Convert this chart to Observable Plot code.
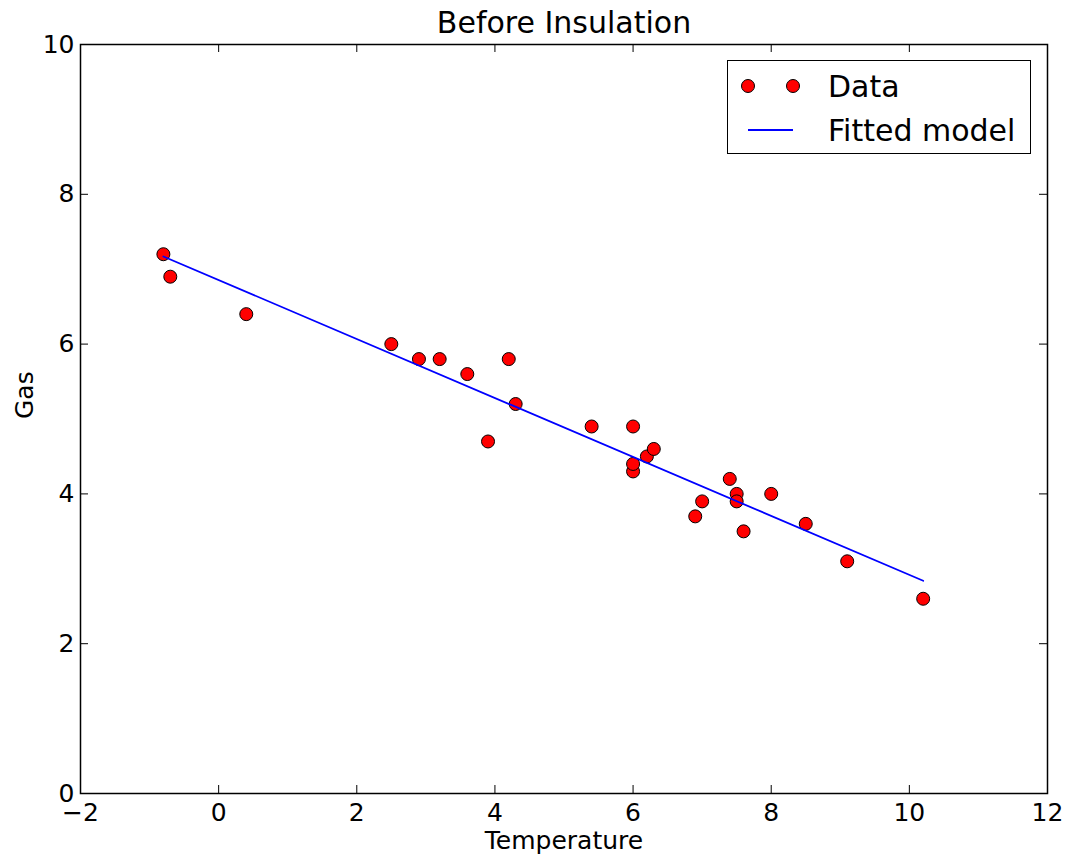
<!DOCTYPE html>
<html>
<head>
<meta charset="utf-8">
<script src="https://cdn.jsdelivr.net/npm/d3@7"></script>
<script src="https://cdn.jsdelivr.net/npm/@observablehq/plot@0.6"></script>
<style>
  html, body { margin: 0; padding: 0; background: #fff; }
  #wrap { position: relative; width: 1071px; height: 859px; font-family: "DejaVu Sans", sans-serif; }
  #legend { position: absolute; left: 727px; top: 60px; width: 302px; height: 92px; border: 1.5px solid #000; background: #fff; }
</style>
</head>
<body>
<div id="wrap"></div>
<script>
// Data (whiteside, before insulation)
const temperature = [-0.8, -0.7, 0.4, 2.5, 2.9, 3.2, 3.6, 3.9, 4.2, 4.3, 5.4, 6.0, 6.0, 6.0, 6.2, 6.3, 6.9, 7.0, 7.4, 7.5, 7.5, 7.6, 8.0, 8.5, 9.1, 10.2];
const gas         = [7.2, 6.9, 6.4, 6.0, 5.8, 5.8, 5.6, 4.7, 5.8, 5.2, 4.9, 4.9, 4.3, 4.4, 4.5, 4.6, 3.7, 3.9, 4.2, 4.0, 3.9, 3.5, 4.0, 3.6, 3.1, 2.6];
const fitTemperature = [-0.8, 10.2];
const fitGas         = [7.17, 2.84];
const xTicks = [-2, 0, 2, 4, 6, 8, 10, 12];
const yTicks = [0, 2, 4, 6, 8, 10];
const titleText = "Before Insulation";
const xLabel = "Temperature";
const yLabel = "Gas";
const legendLabels = ["Data", "Fitted model"];

const points = temperature.map((t, i) => ({t, g: gas[i]}));
const fit = fitTemperature.map((t, i) => ({t, g: fitGas[i]}));

const W = 1071, H = 859, mL = 80, mR = 24, mT = 44, mB = 66;
const frameW = W - mL - mR, frameH = H - mT - mB, tick = 8;

const chart = Plot.plot({
  width: W,
  height: H,
  marginLeft: mL,
  marginRight: mR,
  marginTop: mT,
  marginBottom: mB,
  style: { fontFamily: "'DejaVu Sans', sans-serif", fontSize: "25px", color: "#000", background: "#fff" },
  x: { domain: [-2, 12] },
  y: { domain: [0, 10] },
  marks: [
    // tick labels
    Plot.axisX({anchor: "bottom", ticks: xTicks, tickSize: 0, tickPadding: 10, label: null, fontSize: 25}),
    Plot.axisY({anchor: "left", ticks: yTicks, tickSize: 0, tickPadding: 6, label: null, fontSize: 25}),
    // inward tick marks on all four sides
    Plot.tickX(xTicks, {x: d => d, insetTop: frameH - tick, stroke: "black", strokeWidth: 1}),
    Plot.tickX(xTicks, {x: d => d, insetBottom: frameH - tick, stroke: "black", strokeWidth: 1}),
    Plot.tickY(yTicks, {y: d => d, insetRight: frameW - tick, stroke: "black", strokeWidth: 1}),
    Plot.tickY(yTicks, {y: d => d, insetLeft: frameW - tick, stroke: "black", strokeWidth: 1}),
    Plot.dot(points, {x: "t", y: "g", r: 6.5, fill: "red", stroke: "black", strokeWidth: 1}),
    Plot.line(fit, {x: "t", y: "g", stroke: "blue", strokeWidth: 1.8}),
    Plot.frame({stroke: "black", strokeWidth: 1.5}),
    Plot.text([titleText], {frameAnchor: "top", dy: -21, text: d => d, fontSize: 30, lineAnchor: "middle", fill: "black"}),
    Plot.text([xLabel], {frameAnchor: "bottom", dy: 47, text: d => d, fontSize: 25, lineAnchor: "middle", fill: "black"}),
    Plot.text([yLabel], {frameAnchor: "left", dx: -56, text: d => d, fontSize: 25, rotate: -90, lineAnchor: "middle", fill: "black"})
  ]
});

const wrap = document.getElementById("wrap");
wrap.appendChild(chart);

// Legend
const legend = document.createElement("div");
legend.id = "legend";
legend.innerHTML = `
<svg width="302" height="92" style="display:block;font-family:'DejaVu Sans',sans-serif">
  <circle cx="20" cy="25" r="6.5" fill="red" stroke="black" stroke-width="1"></circle>
  <circle cx="65" cy="25" r="6.5" fill="red" stroke="black" stroke-width="1"></circle>
  <text x="100" y="36" font-size="30" fill="black">${legendLabels[0]}</text>
  <line x1="20" x2="65" y1="69" y2="69" stroke="blue" stroke-width="1.8"></line>
  <text x="100" y="80" font-size="30" fill="black">${legendLabels[1]}</text>
</svg>`;
wrap.appendChild(legend);
</script>
</body>
</html>
